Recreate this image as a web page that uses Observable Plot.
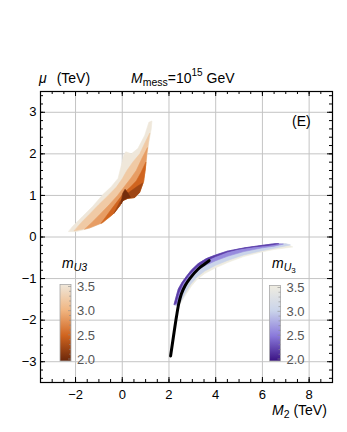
<!DOCTYPE html>
<html><head><meta charset="utf-8">
<script src="https://cdn.jsdelivr.net/npm/d3@7"></script>
<script src="https://cdn.jsdelivr.net/npm/@observablehq/plot@0.6"></script>
<style>body{margin:0;background:#fff}#chart{position:relative;width:347px;height:432px}</style>
</head><body><div id="chart"></div>
<script>
// ---- tick labels ----
const xTicks = [-2, 0, 2, 4, 6, 8];
const yTicks = [-3, -2, -1, 0, 1, 2, 3];
const legendTicks = [2.0, 2.5, 3.0, 3.5];

// ---- orange region (m_U3 layers, M2 [TeV], mu [TeV]) ----
const orangeLevels = [3.5, 3.2, 2.85, 2.5, 2.25, 2.05];
const orange35 = [[-2.29,0.13],[-1.97,0.13],[-1.4,0.21],[-0.83,0.34],[-0.4,0.54],[-0.11,0.74],[0.03,0.87],[0.24,0.92],[0.53,0.94],[0.74,1.06],[0.92,1.33],[1.0,1.65],[1.06,1.97],[1.14,2.28],[1.24,2.6],[1.27,2.79],[1.14,2.76],[0.96,2.44],[0.67,2.13],[0.39,2.0],[0.15,2.05],[0.05,1.95],[0.0,1.81],[-0.18,1.41],[-0.47,1.21],[-0.83,1.02],[-1.26,0.74],[-1.69,0.5],[-2.12,0.26]];
const orange32 = [[-2.05,0.15],[-1.4,0.22],[-0.83,0.35],[-0.4,0.55],[-0.11,0.75],[0.03,0.88],[0.24,0.93],[0.53,0.95],[0.74,1.07],[0.91,1.33],[0.99,1.65],[1.05,1.97],[1.12,2.28],[1.18,2.5],[1.0,2.3],[0.75,2.0],[0.45,1.8],[0.2,1.6],[0.0,1.4],[-0.25,1.2],[-0.6,1.0],[-1.0,0.78],[-1.4,0.55],[-1.75,0.35]];
const orange285 = [[-1.6,0.19],[-1.4,0.22],[-0.83,0.35],[-0.4,0.55],[-0.11,0.75],[0.03,0.88],[0.24,0.93],[0.53,0.95],[0.74,1.07],[0.91,1.33],[0.99,1.65],[1.04,1.97],[1.08,2.15],[0.85,1.9],[0.6,1.6],[0.35,1.4],[0.1,1.22],[-0.2,1.0],[-0.55,0.78],[-0.95,0.55],[-1.3,0.35]];
const orange25 = [[-0.9,0.33],[-0.4,0.55],[-0.11,0.75],[0.03,0.88],[0.24,0.93],[0.53,0.95],[0.74,1.07],[0.91,1.33],[0.99,1.65],[1.01,1.8],[0.8,1.55],[0.6,1.35],[0.35,1.2],[0.1,1.08],[-0.15,0.9],[-0.45,0.68]];
const orange225 = [[-0.35,0.57],[-0.11,0.75],[0.03,0.88],[0.24,0.93],[0.53,0.95],[0.74,1.07],[0.88,1.3],[0.65,1.22],[0.4,1.12],[0.15,1.02],[-0.1,0.85]];
const orange205 = [[-0.05,0.8],[0.03,0.88],[0.2,0.93],[0.35,0.95],[0.25,1.05],[0.12,1.15],[0.02,1.05]];

// ---- purple region ----
const purpleLevels = [3.5, 3.0, 2.6, 2.2];
const purpleUpper = [[2.22,-1.62],[2.3,-1.45],[2.4,-1.25],[2.55,-1.1],[2.7,-0.98],[2.95,-0.8],[3.25,-0.64],[3.6,-0.52],[3.96,-0.44],[4.5,-0.34],[5.25,-0.26],[6.0,-0.2],[6.54,-0.16],[7.0,-0.16],[7.47,-0.2]];
const purpleLower35 = [[7.3,-0.24],[6.5,-0.3],[5.97,-0.36],[5.2,-0.47],[4.53,-0.61],[4.0,-0.74],[3.53,-0.88],[3.2,-1.02],[2.96,-1.18],[2.75,-1.36],[2.53,-1.56],[2.4,-1.65]];
const purpleLower30 = [[7.2,-0.19],[6.5,-0.27],[5.97,-0.33],[5.2,-0.43],[4.53,-0.56],[4.0,-0.68],[3.53,-0.82],[3.2,-0.96],[2.92,-1.14],[2.7,-1.34],[2.5,-1.56],[2.38,-1.64]];
const purpleLower26 = [[6.9,-0.17],[6.5,-0.22],[6.0,-0.26],[5.2,-0.35],[4.53,-0.46],[4.0,-0.57],[3.53,-0.69],[3.2,-0.82],[2.85,-1.03],[2.6,-1.26],[2.45,-1.5],[2.35,-1.63]];
const purpleLower22 = [[6.7,-0.16],[6.3,-0.2],[5.6,-0.24],[5.0,-0.29],[4.5,-0.36],[4.0,-0.47],[3.6,-0.57],[3.2,-0.72],[2.85,-0.92],[2.6,-1.12],[2.42,-1.35],[2.3,-1.6]];

// ---- black curve ----
const blackLine = [[2.07,-2.86],[2.19,-2.4],[2.32,-1.92],[2.42,-1.6],[2.53,-1.37],[2.7,-1.16],[2.89,-1.0],[3.25,-0.77],[3.5,-0.66],[3.72,-0.57]];

const orangeColors = ["#6b270a", "#d0641f", "#f1b682", "#efe7da"];
const purpleColors = ["#3a1283", "#8a79db", "#cad4ea", "#efece0"];
const orangeScale = d3.scaleLinear().domain(legendTicks).range(orangeColors);
const purpleScale = d3.scaleLinear().domain(legendTicks).range(purpleColors);

const rows = [];
function addPoly(name, level, pts, scale) {
  for (const [x, y] of pts) rows.push({name, x, y, c: scale(level)});
}
const orangePolys = [orange35, orange32, orange285, orange25, orange225, orange205];
orangePolys.forEach((p, i) => addPoly("o" + i, orangeLevels[i], p, orangeScale));
const purpleLowers = [purpleLower35, purpleLower30, purpleLower26, purpleLower22];
purpleLowers.forEach((low, i) => {
  const xEnd = low[0][0];
  const up = purpleUpper.filter(d => d[0] < xEnd);
  addPoly("p" + i, purpleLevels[i], up.concat(low), purpleScale);
});

const W = 347, H = 432, mt = 91, mr = 15, mb = 50, ml = 40;
const fw = W - ml - mr, fh = H - mt - mb;
const xMinor = d3.range(-3.5, 9.001, 0.5);
const yMinor = d3.range(-3.4, 3.401, 0.2).map(v => Math.round(v * 10) / 10);
const minorLen = 3, majorLen = 5;
const intFmt = d3.format("d");

const plot = Plot.plot({
  width: W, height: H,
  marginTop: mt, marginRight: mr, marginBottom: mb, marginLeft: ml,
  style: {fontFamily: "'Liberation Sans', Arial, sans-serif", fontSize: "13px", background: "#fff"},
  x: {domain: [-3.5, 9]},
  y: {domain: [-3.5, 3.5]},
  color: {type: "identity"},
  marks: [
    Plot.gridX(xTicks, {stroke: "#c4c4c4", strokeOpacity: 1, strokeWidth: 1}),
    Plot.gridY(yTicks, {stroke: "#c4c4c4", strokeOpacity: 1, strokeWidth: 1}),
    Plot.line(rows, {x: "x", y: "y", z: "name", fill: "c", stroke: "c", strokeWidth: 0.6, curve: "linear-closed"}),
    Plot.line(blackLine, {x: d => d[0], y: d => d[1], stroke: "#000", strokeWidth: 3, curve: "catmull-rom"}),
    Plot.tickX(xMinor, {x: d => d, insetTop: fh - minorLen, stroke: "#000"}),
    Plot.tickX(xMinor, {x: d => d, insetBottom: fh - minorLen, stroke: "#000"}),
    Plot.tickX(xTicks, {x: d => d, insetTop: fh - majorLen, stroke: "#000"}),
    Plot.tickX(xTicks, {x: d => d, insetBottom: fh - majorLen, stroke: "#000"}),
    Plot.tickY(yMinor, {y: d => d, insetRight: fw - minorLen, stroke: "#000"}),
    Plot.tickY(yMinor, {y: d => d, insetLeft: fw - minorLen, stroke: "#000"}),
    Plot.tickY(yTicks, {y: d => d, insetRight: fw - majorLen, stroke: "#000"}),
    Plot.tickY(yTicks, {y: d => d, insetLeft: fw - majorLen, stroke: "#000"}),
    Plot.frame({stroke: "#000", strokeWidth: 1.2}),
    Plot.axisX({ticks: xTicks, tickSize: 0, tickPadding: 7, label: null, fontSize: 13, tickFormat: intFmt}),
    Plot.axisY({ticks: yTicks, tickSize: 0, tickPadding: 4, label: null, fontSize: 13, tickFormat: intFmt})
  ]
});
document.getElementById("chart").appendChild(plot);

// ---- annotations & legends ----
const svg = d3.select(plot);
const ff = "'Liberation Sans', Arial, sans-serif";
function rich(x, y, parts, size = 14, fill = "#000") {
  const t = svg.append("text").attr("x", x).attr("y", y).attr("font-family", ff).attr("font-size", size)
    .attr("fill", fill).attr("text-anchor", "start");
  for (const p of parts) {
    const s = t.append("tspan").text(p.t);
    if (p.i) s.attr("font-style", "italic");
    if (p.fs) s.attr("font-size", p.fs);
    if (p.dy) s.attr("dy", p.dy);
    if (p.dx) s.attr("dx", p.dx);
  }
  return t;
}
rich(39, 82.7, [{t: "μ", i: true}, {t: "(TeV)", dx: 10}]);
rich(131, 82.7, [{t: "M", i: true}, {t: "mess", fs: 10.5, dy: 3}, {t: "=10", dy: -3}, {t: "15", fs: 10, dy: -7}, {t: " GeV", dy: 7}]);
rich(292, 125.5, [{t: "(E)"}]);
rich(272, 415, [{t: "M", i: true}, {t: "2", fs: 10.5, dy: 3}, {t: " (TeV)", dy: -3}]);

const defs = svg.append("defs");
function legend(id, colors, x, yTop, yBot, titleParts, tx) {
  const g = defs.append("linearGradient").attr("id", id).attr("x1", 0).attr("y1", 1).attr("x2", 0).attr("y2", 0);
  colors.forEach((c, i) => g.append("stop").attr("offset", i / (colors.length - 1)).attr("stop-color", c));
  const ly = d3.scaleLinear().domain([2.0, 3.5]).range([yBot - 2, yTop + 2]);
  svg.append("rect").attr("x", x).attr("y", yTop).attr("width", 11).attr("height", yBot - yTop)
    .attr("fill", `url(#${id})`).attr("stroke", "#a8a8a8").attr("stroke-width", 0.8);
  for (const v of d3.range(2.0, 3.501, 0.1)) {
    const major = Math.abs(v * 2 - Math.round(v * 2)) < 1e-6;
    svg.append("line").attr("x1", x + 11 - (major ? 3 : 2)).attr("x2", x + 11).attr("y1", ly(v)).attr("y2", ly(v))
      .attr("stroke", "#8a8a8a").attr("stroke-width", 0.6);
  }
  for (const v of legendTicks) {
    svg.append("text").attr("x", x + 17).attr("y", ly(v)).attr("dy", "0.36em").attr("font-family", ff)
      .attr("text-anchor", "start").attr("font-size", 13).attr("fill", "#555").text(v.toFixed(1));
  }
  rich(tx, 267.5, titleParts, 14);
}
legend("gOr", orangeColors, 60, 284.5, 361, [{t: "m", i: true}, {t: "U3", i: true, fs: 10.5, dy: 3}], 62);
legend("gPu", purpleColors, 269.5, 285.5, 361, [{t: "m", i: true}, {t: "U", i: true, fs: 10.5, dy: 3}, {t: "3", fs: 8, dy: 2}], 272);
</script>
</body></html>
